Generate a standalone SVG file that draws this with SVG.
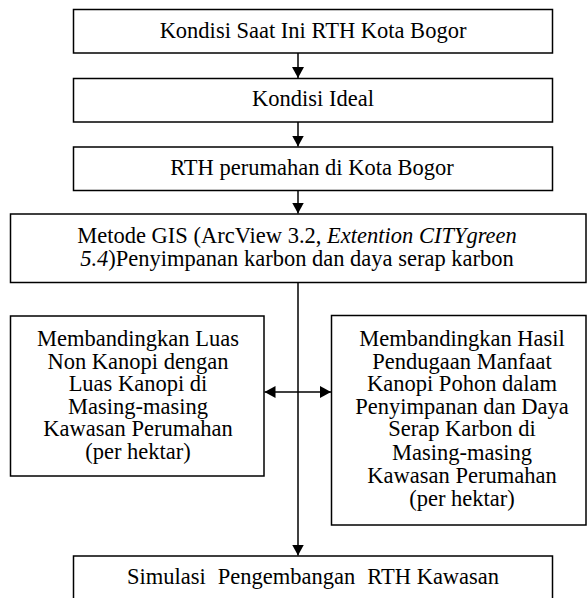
<svg xmlns="http://www.w3.org/2000/svg" width="587" height="598" viewBox="0 0 587 598">
<style>
.box{fill:#fff;stroke:#000;stroke-width:1.5}
.t{font-family:'Liberation Serif','DejaVu Serif',serif;font-size:22.5px;fill:#000;text-anchor:middle}
.i{font-style:italic}
.c{stroke:#000;stroke-width:1.5;fill:none}
</style>
<defs>
<marker id="ah" viewBox="0 0 11 12" refX="11" refY="6" markerWidth="11" markerHeight="12" markerUnits="userSpaceOnUse" orient="auto-start-reverse">
<path d="M0,0 L11,6 L0,12 Z" fill="#000"/>
</marker>
</defs>
<rect width="587" height="598" fill="#fff"/>
<g id="n1"><rect class="box" x="73.5" y="9.5" width="479" height="43.5"/><text class="t" x="313" y="37.5">Kondisi Saat Ini RTH Kota Bogor</text></g>
<g id="n2"><rect class="box" x="73.5" y="78.5" width="479" height="43.5"/><text class="t" x="313" y="106">Kondisi Ideal</text></g>
<g id="n3"><rect class="box" x="73.5" y="147" width="479" height="43.5"/><text class="t" x="312" y="174.5">RTH perumahan di Kota Bogor</text></g>
<g id="n4"><rect class="box" x="10.5" y="214" width="575.5" height="68.5"/>
<text class="t" x="297" y="242.5">Metode GIS (ArcView 3.2, <tspan class="i">Extention CITYgreen</tspan></text>
<text class="t" x="297" y="265.5"><tspan class="i">5.4</tspan>)Penyimpanan karbon dan daya serap karbon</text></g>
<g id="n5"><rect class="box" x="10.5" y="316" width="253.5" height="160"/>
<text class="t" x="138" y="345.5">Membandingkan Luas</text>
<text class="t" x="138" y="368.5">Non Kanopi dengan</text>
<text class="t" x="138" y="391">Luas Kanopi di</text>
<text class="t" x="138" y="413.5">Masing-masing</text>
<text class="t" x="138" y="436">Kawasan Perumahan</text>
<text class="t" x="138" y="459">(per hektar)</text></g>
<g id="n6"><rect class="box" x="331.5" y="315.5" width="254.5" height="209.5"/>
<text class="t" x="462" y="345.5">Membandingkan Hasil</text>
<text class="t" x="462" y="368.5">Pendugaan Manfaat</text>
<text class="t" x="462" y="391">Kanopi Pohon dalam</text>
<text class="t" x="462" y="413.5">Penyimpanan dan Daya</text>
<text class="t" x="462" y="436">Serap Karbon di</text>
<text class="t" x="462" y="459.5">Masing-masing</text>
<text class="t" x="462" y="483">Kawasan Perumahan</text>
<text class="t" x="462" y="506">(per hektar)</text></g>
<g id="n7"><rect class="box" x="73.5" y="556" width="479" height="60"/>
<text class="t" x="313" y="584">Simulasi <tspan dx="6.5">Pengembangan </tspan><tspan dx="6.5">RTH Kawasan</tspan></text></g>
<g id="connectors">
<line class="c" x1="298" y1="53" x2="298" y2="78" marker-end="url(#ah)"/>
<line class="c" x1="298" y1="122" x2="298" y2="146.5" marker-end="url(#ah)"/>
<line class="c" x1="298" y1="190.5" x2="298" y2="213.5" marker-end="url(#ah)"/>
<line class="c" x1="298" y1="282.5" x2="298" y2="555.5" marker-end="url(#ah)"/>
<line class="c" x1="264.5" y1="392" x2="331" y2="392" marker-start="url(#ah)" marker-end="url(#ah)"/>
</g>
</svg>
